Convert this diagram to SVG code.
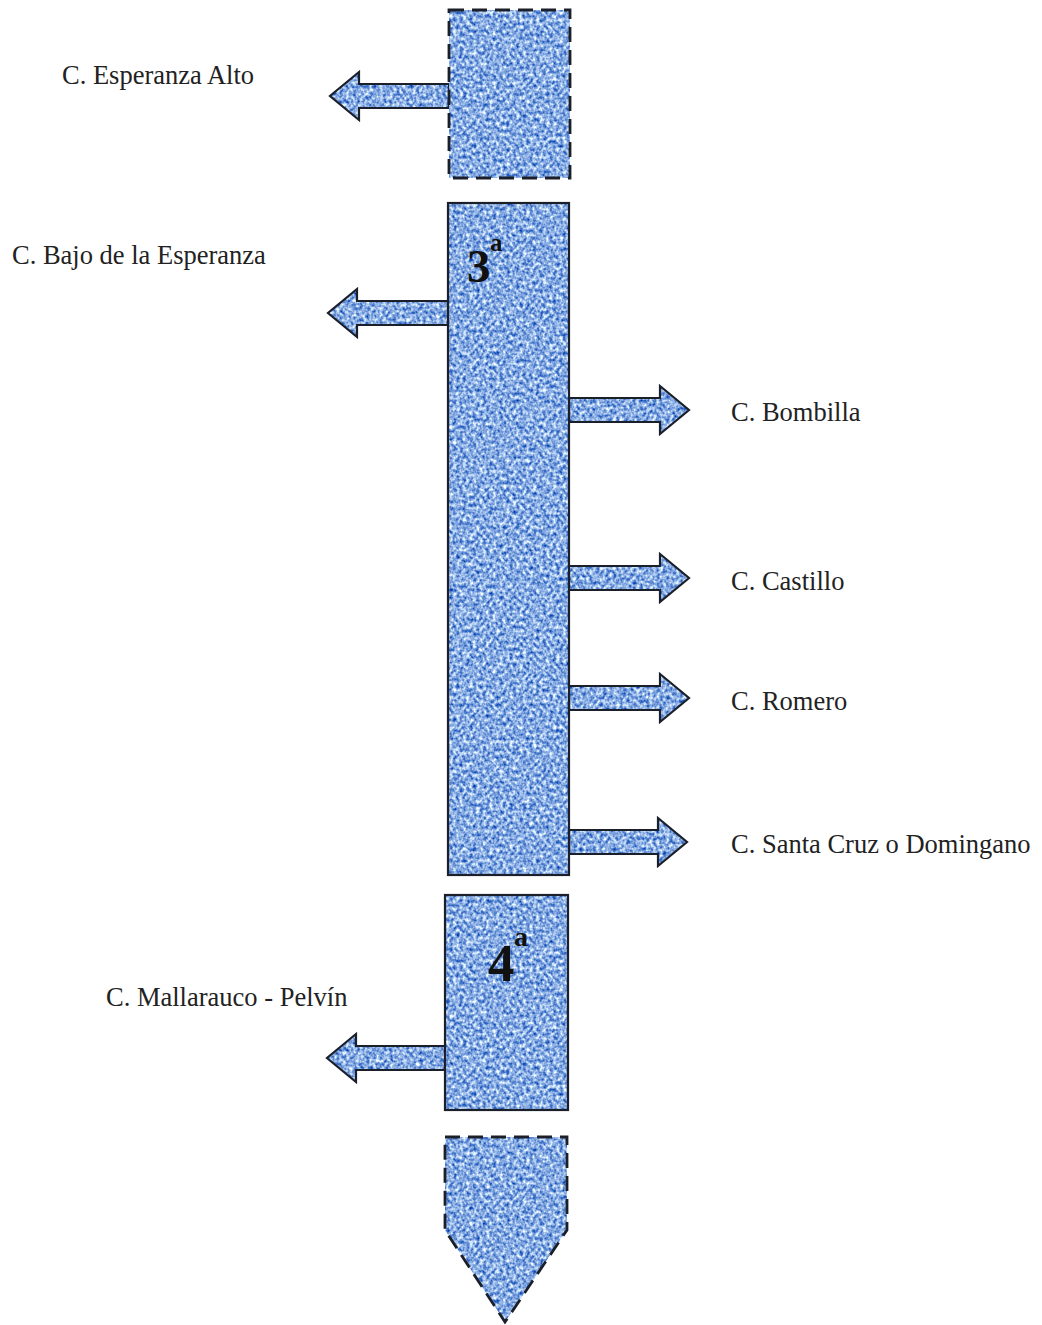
<svg xmlns="http://www.w3.org/2000/svg" width="1042" height="1325" viewBox="0 0 1042 1325">
  <defs>
    <!-- mottled blue canvas texture, clipped to the shape it is applied on -->
    <filter id="weave" x="0" y="0" width="100%" height="100%" color-interpolation-filters="sRGB">
      <feTurbulence type="fractalNoise" baseFrequency="0.3 0.27" numOctaves="2" seed="7" result="noise"/>
      <feColorMatrix in="noise" type="matrix" values="1.5 0 0 0 -0.22  1.2 0 0 0 0.07  0.55 0 0 0 0.61  0 0 0 0 1" result="tint"/>
      <feComposite in="tint" in2="SourceGraphic" operator="in"/>
    </filter>
    <style>
      .tex { fill: #8fb0e8; filter: url(#weave); stroke: none; }
      .edge { fill: none; stroke: #1b1f2a; stroke-width: 2.2; stroke-linejoin: miter; }
      .dash { fill: none; stroke: #1b1f2a; stroke-width: 2.8; stroke-dasharray: 15 8; }
      .lbl { font-family: "Liberation Serif", "Times New Roman", serif; font-size: 26.5px; fill: #222; }
      .num { font-family: "Liberation Serif", "Times New Roman", serif; font-weight: bold; fill: #111; }
    </style>
  </defs>

  <rect width="1042" height="1325" fill="#ffffff"/>

  <!-- branch arrows -->
  <g id="connectors">
    <g id="arrow-esperanza-alto">
      <path class="tex" d="M449,84 H359 V72 L330,96 L359,120 V108 H449 Z"/>
      <path class="edge" d="M449,84 H359 V72 L330,96 L359,120 V108 H449 Z"/>
    </g>
    <g id="arrow-bajo-esperanza">
      <path class="tex" d="M448,301 H357 V289 L328,313 L357,337 V325 H448 Z"/>
      <path class="edge" d="M448,301 H357 V289 L328,313 L357,337 V325 H448 Z"/>
    </g>
    <g id="arrow-bombilla">
      <path class="tex" d="M569,398 H660 V386 L689,410 L660,434 V422 H569 Z"/>
      <path class="edge" d="M569,398 H660 V386 L689,410 L660,434 V422 H569 Z"/>
    </g>
    <g id="arrow-castillo">
      <path class="tex" d="M569,566 H660 V554 L689,578 L660,602 V590 H569 Z"/>
      <path class="edge" d="M569,566 H660 V554 L689,578 L660,602 V590 H569 Z"/>
    </g>
    <g id="arrow-romero">
      <path class="tex" d="M569,686 H660 V674 L689,698 L660,722 V710 H569 Z"/>
      <path class="edge" d="M569,686 H660 V674 L689,698 L660,722 V710 H569 Z"/>
    </g>
    <g id="arrow-santa-cruz">
      <path class="tex" d="M569,830 H658 V818 L687,842 L658,866 V854 H569 Z"/>
      <path class="edge" d="M569,830 H658 V818 L687,842 L658,866 V854 H569 Z"/>
    </g>
    <g id="arrow-mallarauco">
      <path class="tex" d="M445,1046 H356 V1034 L327,1058 L356,1082 V1070 H445 Z"/>
      <path class="edge" d="M445,1046 H356 V1034 L327,1058 L356,1082 V1070 H445 Z"/>
    </g>
  </g>

  <!-- upstream section (continues above) -->
  <g id="section-upstream">
    <rect class="tex" x="449" y="10" width="121" height="168"/>
    <rect class="dash" x="449" y="10" width="121" height="168"/>
  </g>

  <!-- third section -->
  <g id="section-3">
    <rect class="tex" x="448" y="203" width="121" height="672"/>
    <rect class="edge" x="448" y="203" width="121" height="672"/>
    <text class="num" x="467" y="282" font-size="47">3</text>
    <text class="num" x="490" y="251" font-size="25">a</text>
  </g>

  <!-- fourth section -->
  <g id="section-4">
    <rect class="tex" x="445" y="895" width="123" height="215"/>
    <rect class="edge" x="445" y="895" width="123" height="215"/>
    <text class="num" x="488" y="981" font-size="53">4</text>
    <text class="num" x="514" y="946" font-size="28">a</text>
  </g>

  <!-- downstream section (continues below) -->
  <g id="section-downstream">
    <path class="tex" d="M445,1137 H567 V1230 L505,1322 L445,1230 Z"/>
    <path class="dash" d="M445,1137 H567 V1230 L505,1322 L445,1230 Z"/>
  </g>

  <!-- canal names -->
  <g id="labels">
    <text class="lbl" x="62" y="84">C. Esperanza Alto</text>
    <text class="lbl" x="12" y="264">C. Bajo de la Esperanza</text>
    <text class="lbl" x="731" y="421">C. Bombilla</text>
    <text class="lbl" x="731" y="590">C. Castillo</text>
    <text class="lbl" x="731" y="710">C. Romero</text>
    <text class="lbl" x="731" y="853">C. Santa Cruz o Domingano</text>
    <text class="lbl" x="106" y="1006">C. Mallarauco - Pelvín</text>
  </g>
</svg>
